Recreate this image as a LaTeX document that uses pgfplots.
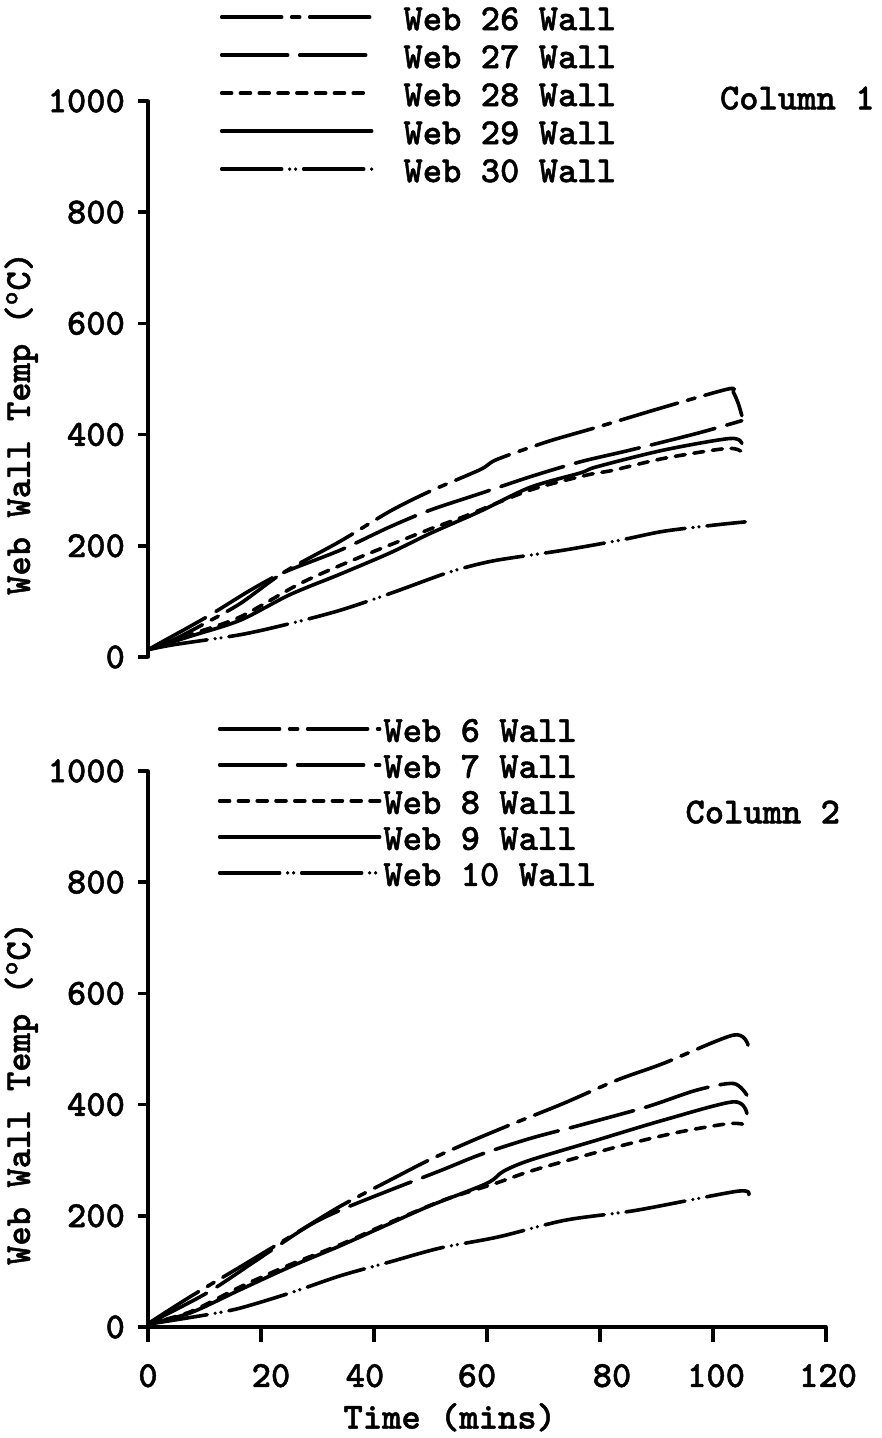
\documentclass[border=0pt]{standalone}
\usepackage{fontspec}
\setmainfont{lmmonolt10-bold.otf}[FakeBold=1.2]
\usepackage{pgfplots}
\pgfplotsset{compat=1.18}

\newcommand\chartfont{\fontsize{18.4}{20}\selectfont}

\pgfplotsset{
  webaxis/.style={
    scale only axis, width=339pt, height=278pt,
    xmin=0, xmax=120, ymin=0, ymax=1000,
    ytick={0,200,...,1000},
    clip=false,
    tick align=outside, major tick length=5pt,
    axis line style={-, line width=1.8pt, line cap=round},
    every tick/.style={line width=1.8pt, black},
    tick label style={font=\chartfont},
    /pgf/number format/assume math mode=true,
    /pgf/number format/1000 sep={},
    yticklabel style={xshift=-3pt},
    ylabel={Web Wall Temp (\textsuperscript{o}C)},
    ylabel shift=-2pt,
    ylabel style={font=\chartfont, at={(ticklabel cs:0.42)}},
    legend cell align=left,
  },
  s1/.style={line width=1.8pt, line cap=round, dash pattern=on 30pt off 5pt on 4pt off 5pt},
  s2/.style={line width=1.8pt, line cap=round, dash pattern=on 33pt off 6pt},
  s3/.style={line width=1.8pt, line cap=round, dash pattern=on 5pt off 4.4pt},
  s4/.style={line width=1.8pt, line cap=round},
  s5/.style={line width=1.8pt, line cap=round, dash pattern=on 30pt off 4pt on 0pt off 3pt on 0pt off 4pt},
}

\begin{document}
\begin{tikzpicture}
\path[use as bounding box] (-74pt,-55.5pt) rectangle (367pt,663.5pt);

% Column 1
\begin{axis}[webaxis,
  at={(0pt,335pt)}, anchor=south west,
  axis y line*=left, axis x line=none,
  legend style={draw=none, fill=none, inner sep=0pt, outer sep=0pt,
    at={(0.106,1.167)}, anchor=north west, font=\chartfont,
    row sep=4pt, column sep=15pt,
    nodes={inner sep=0pt, text height=11pt, text depth=4pt}},
  legend image code/.code={\draw[#1] (0pt,0.3em) -- (75pt,0.3em);},
]
\addplot[s1, smooth] coordinates {(0,13)(4.5,31)(10,60)(16.3,96)(24,152)(34,208)(42.8,262)(49.9,298)(58.8,337)(61.7,355)(70.6,387)(79.4,413)(91.2,449)(102.7,482)(103.6,476)(104.5,455)(105.1,434)};
\addlegendentry{Web 26 Wall}
\addplot[s2, smooth] coordinates {(0,13)(2.1,25)(10.4,72)(18.1,120)(24,152)(34,192)(42.8,234)(49.9,264)(58.8,294)(67.6,324)(76.5,351)(85.3,372)(97.1,402)(105.1,425)};
\addlegendentry{Web 27 Wall}
\addplot[s3, smooth] coordinates {(0,13)(7.4,40)(16.3,72)(26.9,132)(36.9,177)(49.9,230)(55.8,252)(67.6,300)(77.6,327)(82.4,336)(91.2,357)(102.4,375)(105.1,369)};
\addlegendentry{Web 28 Wall}
\addplot[s4, smooth] coordinates {(0,13)(7.4,37)(16.3,66)(25.1,112)(34,149)(42.8,187)(49.9,222)(58.8,262)(67.6,305)(76.5,331)(79.4,342)(91.2,372)(103,393)(105.1,384)};
\addlegendentry{Web 29 Wall}
\addplot[s5, smooth] coordinates {(0,13)(4.5,22)(16.3,40)(25.1,60)(34,84)(42.8,114)(51.7,147)(55.8,160)(61.7,174)(73.5,192)(83.5,210)(91.2,226)(100,237)(105.7,243)};
\addlegendentry{Web 30 Wall}
\node[font=\chartfont] at (axis cs:114.9,1005) {Column 1};
\end{axis}

% Column 2
\begin{axis}[webaxis,
  at={(0pt,0pt)}, anchor=south west,
  axis y line*=left, axis x line*=bottom,
  xtick={0,20,...,120},
  xticklabels={0,\kern10pt 20,40\kern9pt,60\kern10pt,\kern12pt 80,\kern3pt 100,\kern2pt 120},
  xtick style={/pgfplots/major tick length=7.5pt},
  xticklabel style={yshift=-10pt},
  xlabel={Time (mins)},
  xlabel style={font=\chartfont, at={(ticklabel cs:0.445)}, yshift=-1pt},
  legend style={draw=none, fill=none, inner sep=0pt, outer sep=0pt,
    at={(0.103,1.092)}, anchor=north west, font=\chartfont,
    row sep=3pt, column sep=1pt,
    nodes={inner sep=0pt, text height=11pt, text depth=4pt}},
  legend image code/.code={\draw[#1] (0pt,0.3em) -- (80pt,0.3em);},
]
\addplot[s1, smooth] coordinates {(0,6)(7.4,54)(16.3,108)(25.1,162)(34,217)(42.8,264)(49.9,301)(57.6,336)(64.7,366)(73.5,402)(83,444)(91.2,474)(103.6,525)(106.2,507)};
\addlegendentry{Web 6 Wall}
\addplot[s2, smooth] coordinates {(0,6)(10.4,61)(19.2,120)(28.1,180)(34,210)(42.8,246)(51.7,281)(58.8,310)(67.6,339)(76.5,363)(88.3,396)(97.1,426)(103.6,438)(106,417)};
\addlegendentry{Web 7 Wall}
\addplot[s3, smooth] coordinates {(0,6)(7.4,27)(16.3,72)(25.1,112)(34,148)(42.8,188)(51.7,226)(55.8,240)(61.7,259)(67.6,280)(76.5,306)(85.3,330)(94.2,351)(103,366)(106,363)};
\addlegendentry{Web 8 Wall}
\addplot[s4, smooth] coordinates {(0,6)(7.4,25)(16.3,67)(25.1,108)(34,146)(42.8,186)(49.9,218)(59.9,258)(62.9,280)(67.6,300)(79.4,336)(91.2,372)(103.6,405)(106,384)};
\addlegendentry{Web 9 Wall}
\addplot[s5, smooth] coordinates {(0,5)(10.4,22)(16.3,34)(25.1,61)(34,92)(42.8,117)(51.7,142)(62,162)(73.8,192)(86.5,210)(104.2,244)(106.3,238)};
\addlegendentry{Web 10 Wall}
\node[font=\chartfont] at (axis cs:108.8,926) {Column 2};
\end{axis}
\end{tikzpicture}
\end{document}
